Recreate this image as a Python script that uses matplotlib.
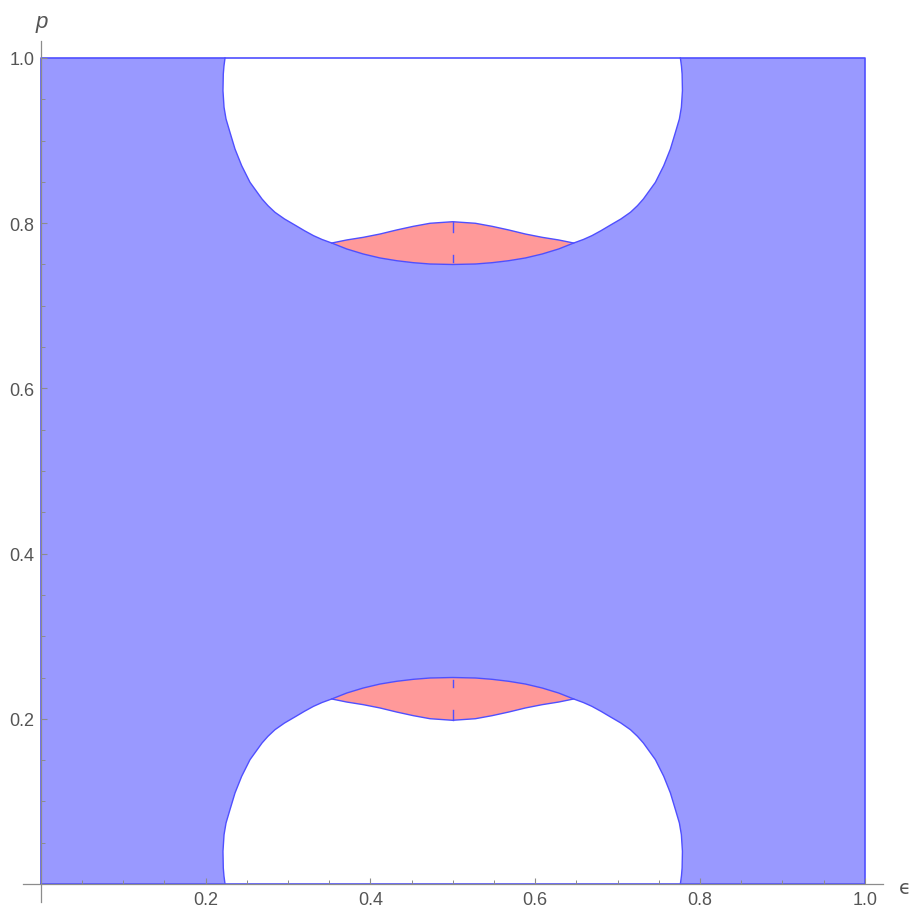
import numpy as np
import matplotlib.pyplot as plt

# region boundaries (epsilon, p)
top_hole_eps = [0.2237, 0.2224, 0.2216, 0.2212, 0.2225, 0.2249, 0.2297, 0.2358, 0.2439, 0.2540,
                0.2686, 0.2758, 0.2843, 0.2959, 0.3098, 0.3201, 0.3311, 0.3414, 0.3532, 0.3714,
                0.3915, 0.4118, 0.4320, 0.4522, 0.4725, 0.5000,
                0.5275, 0.5478, 0.5680, 0.5882, 0.6085, 0.6286, 0.6468, 0.6586, 0.6689, 0.6799,
                0.6902, 0.7041, 0.7157, 0.7242, 0.7314, 0.7460, 0.7561, 0.7642, 0.7703, 0.7751,
                0.7775, 0.7788, 0.7784, 0.7776, 0.7763]
top_hole_p = [1.0000, 0.9903, 0.9806, 0.9604, 0.9403, 0.9262, 0.9100, 0.8898, 0.8696, 0.8495,
              0.8293, 0.8212, 0.8132, 0.8051, 0.7970, 0.7909, 0.7849, 0.7803, 0.7760, 0.7688,
              0.7627, 0.7579, 0.7546, 0.7522, 0.7506, 0.7500,
              0.7506, 0.7522, 0.7546, 0.7579, 0.7627, 0.7688, 0.7760, 0.7803, 0.7849, 0.7909,
              0.7970, 0.8051, 0.8132, 0.8212, 0.8293, 0.8495, 0.8696, 0.8898, 0.9100, 0.9262,
              0.9403, 0.9604, 0.9806, 0.9903, 1.0000]

bot_hole_eps = [0.2237, 0.2224, 0.2216, 0.2212, 0.2225, 0.2249, 0.2297, 0.2358, 0.2439, 0.2540,
                0.2686, 0.2758, 0.2843, 0.2959, 0.3098, 0.3201, 0.3311, 0.3414, 0.3532, 0.3714,
                0.3915, 0.4118, 0.4320, 0.4522, 0.4725, 0.5000,
                0.5275, 0.5478, 0.5680, 0.5882, 0.6085, 0.6286, 0.6468, 0.6586, 0.6689, 0.6799,
                0.6902, 0.7041, 0.7157, 0.7242, 0.7314, 0.7460, 0.7561, 0.7642, 0.7703, 0.7751,
                0.7775, 0.7788, 0.7784, 0.7776, 0.7763]
bot_hole_p = [0.0000, 0.0097, 0.0194, 0.0396, 0.0597, 0.0738, 0.0900, 0.1102, 0.1304, 0.1505,
              0.1707, 0.1788, 0.1868, 0.1949, 0.2030, 0.2091, 0.2151, 0.2197, 0.2240, 0.2312,
              0.2373, 0.2421, 0.2454, 0.2478, 0.2494, 0.2500,
              0.2494, 0.2478, 0.2454, 0.2421, 0.2373, 0.2312, 0.2240, 0.2197, 0.2151, 0.2091,
              0.2030, 0.1949, 0.1868, 0.1788, 0.1707, 0.1505, 0.1304, 0.1102, 0.0900, 0.0738,
              0.0597, 0.0396, 0.0194, 0.0097, 0.0000]

# outer edges of the red lenses
top_lens_eps = [0.3532, 0.3714, 0.3915, 0.4118, 0.4320, 0.4522, 0.4725, 0.5000,
                0.5275, 0.5478, 0.5680, 0.5882, 0.6085, 0.6286, 0.6468]
top_lens_p = [0.7760, 0.7797, 0.7829, 0.7869, 0.7918, 0.7962, 0.7999, 0.8018,
              0.7999, 0.7962, 0.7918, 0.7869, 0.7829, 0.7797, 0.7760]
bot_lens_eps = [0.3532, 0.3714, 0.3915, 0.4118, 0.4320, 0.4522, 0.4725, 0.5000,
                0.5275, 0.5478, 0.5680, 0.5882, 0.6085, 0.6286, 0.6468]
bot_lens_p = [0.2240, 0.2203, 0.2171, 0.2131, 0.2082, 0.2038, 0.2001, 0.1982,
              0.2001, 0.2038, 0.2082, 0.2131, 0.2171, 0.2203, 0.2240]

# little plotting artefacts on eps = 0.5
seam_eps = 0.5
seams_p = [(0.8018, 0.7890), (0.7615, 0.7534), (0.1982, 0.2110), (0.2385, 0.2466)]

box_eps = [0, 1, 1, 0, 0]
box_p = [0, 0, 1, 1, 0]

major = [0.2, 0.4, 0.6, 0.8, 1.0]
major_labels = ["0.2", "0.4", "0.6", "0.8", "1.0"]
minor = [0.05, 0.1, 0.15, 0.25, 0.3, 0.35, 0.45, 0.5, 0.55, 0.65, 0.7, 0.75, 0.85, 0.9, 0.95]

blue_fill = "#9999ff"
red_fill = "#ff9999"
edge = "#4f4fff"
grey = "#8c8c8c"

plt.rcParams["font.family"] = ["Liberation Sans", "DejaVu Sans"]

fig = plt.figure(figsize=(9.13, 9.12), dpi=100)
ax = fig.add_axes([23 / 913, 9 / 912, 860 / 913, 861.3 / 912])
ax.set_xlim(-0.02148, 1.0222)
ax.set_ylim(-0.02179, 1.02094)

ax.fill(box_eps, box_p, color=blue_fill, lw=0, zorder=1)
ax.fill(top_hole_eps, top_hole_p, color="white", lw=0, zorder=1.2)
ax.fill(bot_hole_eps, bot_hole_p, color="white", lw=0, zorder=1.2)

# lens = outer edge + stretch of hole rim between the corners
for hole_e, hole_p, lens_e, lens_p in [(top_hole_eps, top_hole_p, top_lens_eps, top_lens_p),
                                       (bot_hole_eps, bot_hole_p, bot_lens_eps, bot_lens_p)]:
    he = np.array(hole_e)
    hp = np.array(hole_p)
    i0 = hole_e.index(lens_e[0])
    i1 = hole_e.index(lens_e[-1])
    pe = list(lens_e) + list(he[i0:i1 + 1][::-1])
    pp = list(lens_p) + list(hp[i0:i1 + 1][::-1])
    ax.fill(pe, pp, color=red_fill, lw=0, zorder=1.4)
    ax.plot(lens_e, lens_p, color=edge, lw=1.0, zorder=2)

ax.plot(top_hole_eps, top_hole_p, color=edge, lw=1.0, zorder=2)
ax.plot(bot_hole_eps, bot_hole_p, color=edge, lw=1.0, zorder=2)
ax.plot(box_eps, box_p, color=edge, lw=1.2, zorder=2, clip_on=False)
for a, b in seams_p:
    ax.plot([seam_eps, seam_eps], [a, b], color=edge, lw=1.0, zorder=2)

# Mathematica-style axes through the origin
for s in ["top", "right"]:
    ax.spines[s].set_visible(False)
for s in ["left", "bottom"]:
    ax.spines[s].set_position(("data", 0))
    ax.spines[s].set_color(grey)
    ax.spines[s].set_linewidth(0.9)
    ax.spines[s].set_zorder(3)
ax.set_axisbelow(False)
ax.patch.set_alpha(0)

ax.set_xticks(major)
ax.set_xticklabels(major_labels)
ax.set_yticks(major)
ax.set_yticklabels(major_labels)
ax.set_xticks(minor, minor=True)
ax.set_yticks(minor, minor=True)
ax.tick_params(which="major", direction="in", length=4.5, width=0.8, color=grey,
               labelcolor="#555555", labelsize=13)
ax.tick_params(which="minor", direction="in", length=2.6, width=0.7, color=grey)
ax.tick_params(axis="x", which="major", pad=5)
ax.tick_params(axis="y", which="major", pad=4.5)

ax.text(1.049, -0.011, "\u03f5", fontsize=14, color="#555555", ha="center", va="baseline",
        family=["DejaVu Sans"])
ax.text(0.001, 1.0375, "p", fontsize=16, color="#555555", ha="center", va="baseline",
        style="italic")

fig.savefig("out.png", dpi=100)
